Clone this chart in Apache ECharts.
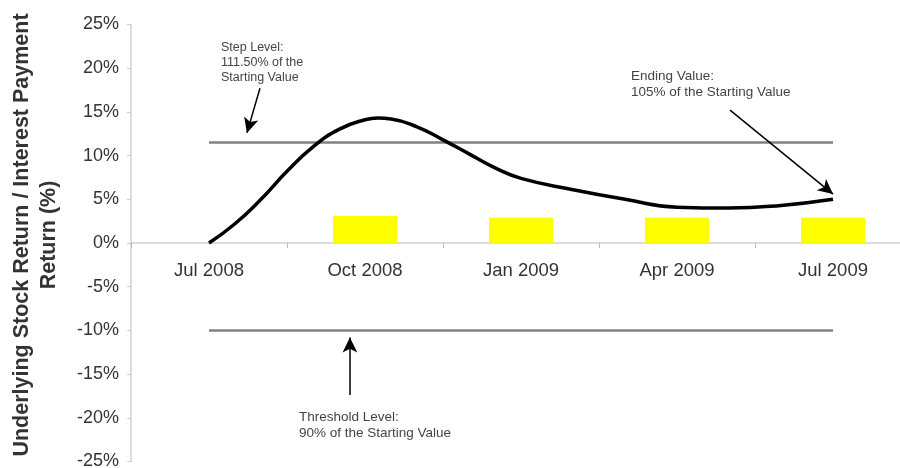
<!DOCTYPE html>
<html>
<head>
<meta charset="utf-8">
<script src="https://cdn.jsdelivr.net/npm/echarts@6/dist/echarts.min.js"></script>
<style>html,body{margin:0;padding:0;background:#fff}#c{width:900px;height:468px}</style>
</head>
<body>
<div id="c"></div>
<script>
const categories = ['Jul 2008', 'Oct 2008', 'Jan 2009', 'Apr 2009', 'Jul 2009'];
const couponValues = [null, 3.1, 2.9, 2.9, 2.9];
const lineMonths = [0, 0.5, 1, 1.5, 2, 2.5, 3, 3.25, 3.5, 4, 4.5, 5, 5.5, 6, 7, 8, 9, 10, 11, 12];
const lineValues = [0, 2.2, 5.0, 8.2, 11.0, 13.0, 14.1, 14.3, 14.2, 13.3, 11.8, 10.2, 8.6, 7.4, 6.1, 5.0, 4.1, 4.0, 4.3, 5.0];
const stepLevel = 11.5;
const thresholdLevel = -10;
const levelSpan = [0, 12];

const font = 'Liberation Sans, Arial, sans-serif';
const chart = echarts.init(document.getElementById('c'));
chart.setOption({
  animation: false,
  grid: { left: 131, right: -11, top: 24.5, bottom: 6.5, containLabel: false, outerBoundsMode: 'none' },
  xAxis: [
    {
      type: 'category', data: categories, boundaryGap: true, position: 'bottom', offset: -218.5,
      axisLine: { onZero: false, lineStyle: { color: '#d0d0d0', width: 1.5 } },
      axisTick: { show: true, length: 5, lineStyle: { color: '#bbb' } },
      axisLabel: { color: '#333', fontSize: 18.5, fontFamily: font, margin: 18 },
      splitLine: { show: false }
    },
    { type: 'value', min: -1.5, max: 13.5, show: false }
  ],
  yAxis: {
    type: 'value', min: -25, max: 25, interval: 5,
    name: 'Underlying Stock Return / Interest Payment\nReturn (%)',
    nameLocation: 'middle', nameGap: 68, nameRotate: 90,
    nameTextStyle: { color: '#333', fontSize: 21.5, fontWeight: 'bold', fontFamily: font, lineHeight: 27, padding: [0, 0, 0, 16] },
    axisLine: { show: true, onZero: false, lineStyle: { color: '#d0d0d0', width: 1.5 } },
    axisTick: { show: true, length: 4, lineStyle: { color: '#ccc' } },
    axisLabel: { color: '#333', fontSize: 18, fontFamily: font, margin: 12, formatter: v => v + '%' },
    splitLine: { show: false }
  },
  series: [
    {
      type: 'bar', xAxisIndex: 0, data: couponValues, barWidth: 64,
      itemStyle: { color: '#ffff00' }, silent: true
    },
    {
      type: 'line', xAxisIndex: 1, symbol: 'none', silent: true,
      data: levelSpan.map(m => [m, stepLevel]),
      lineStyle: { color: '#808080', width: 2.5 }
    },
    {
      type: 'line', xAxisIndex: 1, symbol: 'none', silent: true,
      data: levelSpan.map(m => [m, thresholdLevel]),
      lineStyle: { color: '#808080', width: 2.5 }
    },
    {
      type: 'line', xAxisIndex: 1, symbol: 'none', smooth: 0.5, silent: true,
      data: lineMonths.map((m, i) => [m, lineValues[i]]),
      lineStyle: { color: '#000', width: 3.5 },
      markLine: {
        silent: true, symbol: ['none', 'arrow'], symbolSize: [11, 15],
        label: { show: false },
        lineStyle: { color: '#000', width: 1.5, type: 'solid' },
        data: [
          [{ coord: [0.98, 17.7] }, { coord: [0.73, 12.6] }],
          [{ coord: [10.02, 15.2] }, { coord: [12.0, 5.6] }],
          [{ coord: [2.71, -17.4] }, { coord: [2.71, -10.8] }]
        ]
      }
    }
  ],
  graphic: [
    { type: 'text', left: 221, top: 40, style: { text: 'Step Level:\n111.50% of the\nStarting Value', font: '12.5px ' + font, fill: '#444', lineHeight: 15 } },
    { type: 'text', left: 631, top: 68, style: { text: 'Ending Value:\n105% of the Starting Value', font: '13.5px ' + font, fill: '#444', lineHeight: 16 } },
    { type: 'text', left: 299, top: 409, style: { text: 'Threshold Level:\n90% of the Starting Value', font: '13.5px ' + font, fill: '#444', lineHeight: 16 } }
  ]
});
</script>
</body>
</html>
